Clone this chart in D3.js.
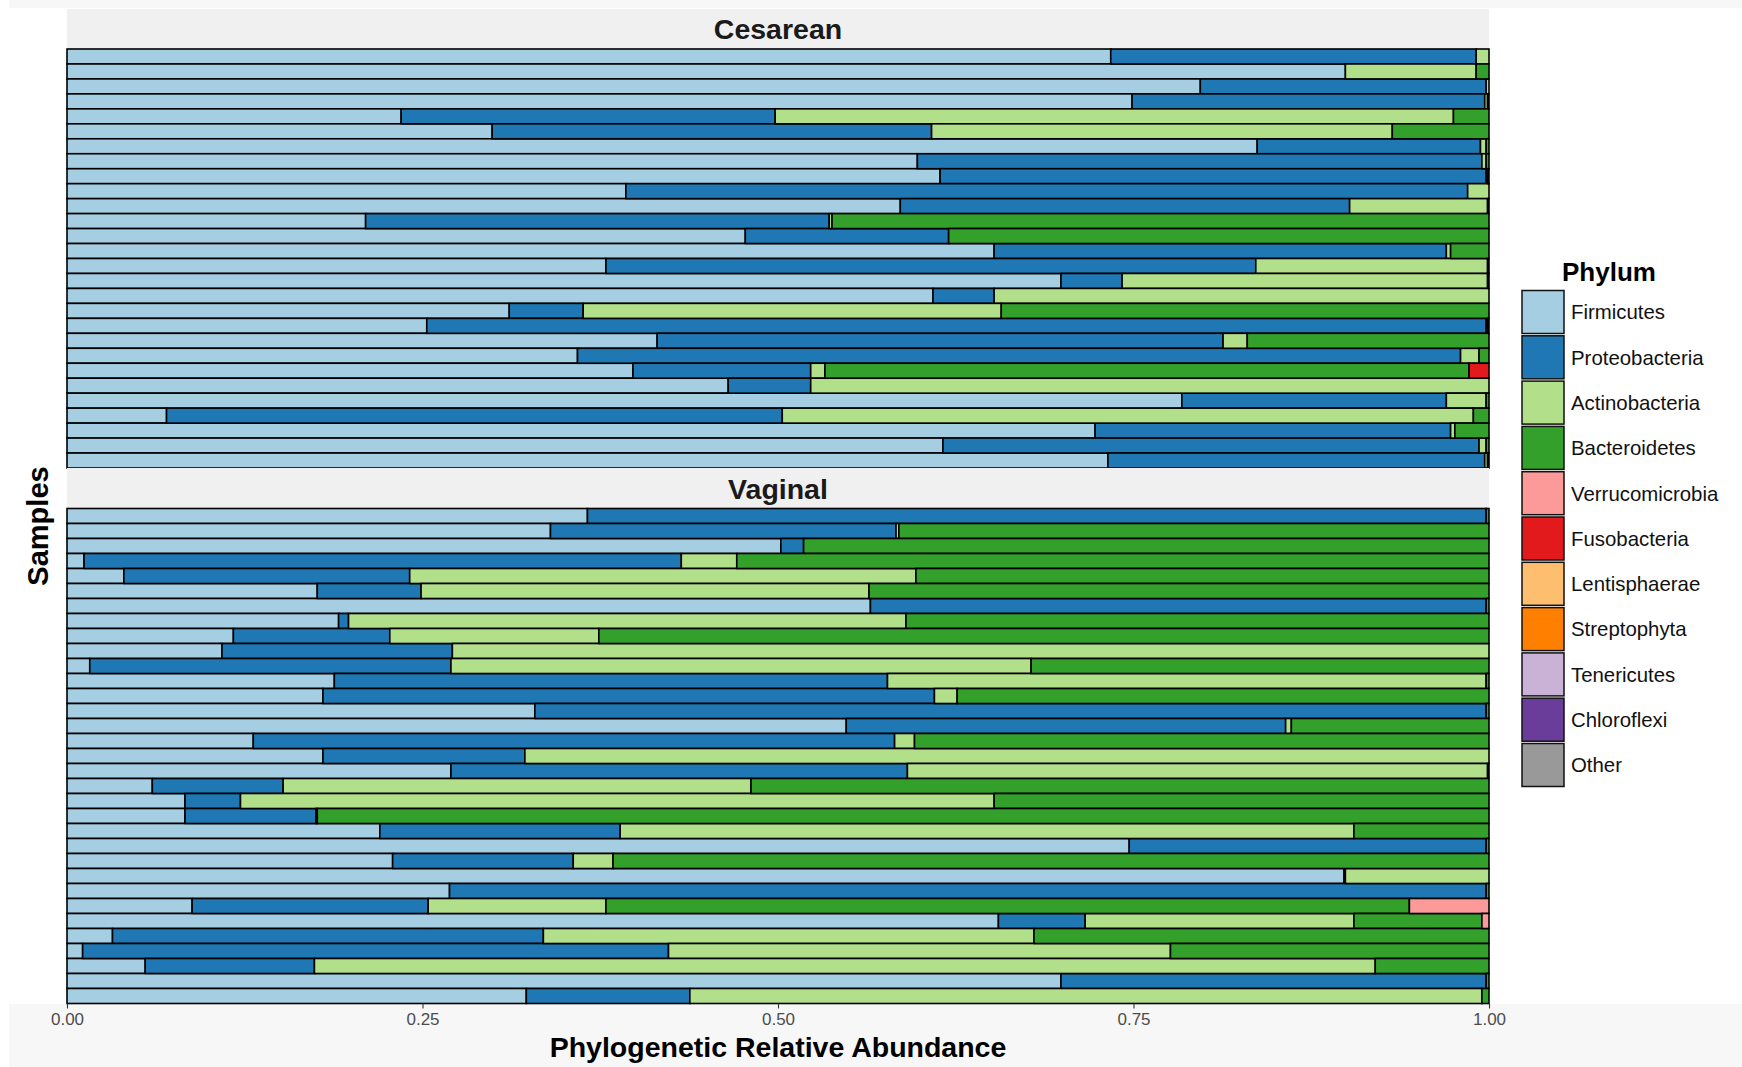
<!DOCTYPE html>
<html lang="en">
<head>
<meta charset="UTF-8">
<title>Phylum abundance</title>
<script src="https://d3js.org/d3.v7.min.js"></script>
<style>
  body { margin: 0; background: #fff; }
  svg { display: block; font-family: "Liberation Sans", Arial, Helvetica, sans-serif; }
</style>
</head>
<body>
<div id="chart"></div>
<script>
// phyla in legend / stacking order
const phyla = ["Firmicutes", "Proteobacteria", "Actinobacteria", "Bacteroidetes", "Verrucomicrobia",
  "Fusobacteria", "Lentisphaerae", "Streptophyta", "Tenericutes", "Chloroflexi", "Other"];
const colors = ["#a6cee3", "#1f78b4", "#b2df8a", "#33a02c", "#fb9a99",
  "#e31a1c", "#fdbf6f", "#ff7f00", "#cab2d6", "#6a3d9a", "#999999"];
const groups = ["Cesarean", "Vaginal"];
const ticks = [0, 0.25, 0.5, 0.75, 1];

// Cesarean samples, top to bottom (fraction of each phylum)
const cesFirm = [.734, .899, .797, .749, .235, .299, .837, .598, .614, .393, .586, .210, .477, .652, .379, .699, .609, .311, .253, .415, .359, .398, .465, .784, .070, .723, .616, .732];
const cesProt = [.257, 0, .201, .248, .263, .309, .157, .397, .384, .592, .316, .326, .143, .318, .457, .043, .043, .052, .745, .398, .621, .125, .058, .186, .433, .250, .377, .265];
const cesActi = [.009, .092, .002, .002, .477, .324, .004, .003, .001, .015, .097, .002, 0, .003, .163, .257, .348, .294, .001, .017, .013, .010, .477, .028, .486, .003, .005, .002];
const cesBact = [0, .009, 0, .001, .025, .068, .002, .002, .001, 0, .001, .462, .380, .027, .001, .001, 0, .343, .001, .170, .007, .453, 0, .002, .011, .024, .002, .001];
const cesVerr = new Array(28).fill(0);
const cesFuso = [0, 0, 0, 0, 0, 0, 0, 0, 0, 0, 0, 0, 0, 0, 0, 0, 0, 0, 0, 0, 0, .014, 0, 0, 0, 0, 0, 0];

// Vaginal samples, top to bottom
const vagFirm = [.366, .340, .502, .012, .040, .176, .565, .191, .117, .109, .016, .188, .180, .329, .548, .131, .180, .270, .060, .083, .083, .220, .747, .229, .898, .269, .088, .655, .032, .011, .055, .699, .323];
const vagProt = [.632, .243, .016, .420, .201, .073, .433, .007, .110, .162, .254, .389, .430, .669, .309, .451, .142, .321, .092, .039, .092, .169, .251, .127, .001, .729, .166, .061, .303, .412, .119, .299, .115];
const vagActi = [0, .002, 0, .039, .356, .315, 0, .392, .147, .729, .408, .421, .016, 0, .004, .014, .678, .408, .329, .530, .001, .516, 0, .028, .101, 0, .125, .189, .345, .353, .746, 0, .557];
const vagBact = [.002, .415, .482, .529, .403, .436, .002, .410, .626, 0, .322, .002, .374, .002, .139, .404, 0, .001, .519, .348, .824, .095, .002, .616, 0, .002, .565, .090, .320, .224, .080, .002, .005];
const vagVerr = [0, 0, 0, 0, 0, 0, 0, 0, 0, 0, 0, 0, 0, 0, 0, 0, 0, 0, 0, 0, 0, 0, 0, 0, 0, 0, .056, .005, 0, 0, 0, 0, 0];
const vagFuso = new Array(33).fill(0);

const W = 1742, H = 1067;
const x0 = 67, x1 = 1489;

const svg = d3.select("#chart").append("svg").attr("width", W).attr("height", H);

// faint grey frame of the screenshot
svg.append("rect").attr("x", 9).attr("y", 0).attr("width", W - 9).attr("height", 8).attr("fill", "#f7f7f7");
svg.append("rect").attr("x", 9).attr("y", 1004).attr("width", W - 9).attr("height", H - 1004).attr("fill", "#f7f7f7");

const xScale = d3.scaleLinear().domain([0, 1]).range([x0, x1]);
const color = d3.scaleOrdinal().domain(phyla).range(colors);

function buildRows(prefix, cols) {
  const n = cols[0].length;
  return d3.range(n).map(i => {
    const r = { id: prefix + (i + 1) };
    phyla.forEach((p, j) => { r[p] = cols[j] ? cols[j][i] : 0; });
    return r;
  });
}

const panels = [
  { name: groups[0], stripTop: 9, top: 49, bottom: 468,
    rows: buildRows("C", [cesFirm, cesProt, cesActi, cesBact, cesVerr, cesFuso]) },
  { name: groups[1], stripTop: 468, top: 508.5, bottom: 1003.5,
    rows: buildRows("V", [vagFirm, vagProt, vagActi, vagBact, vagVerr, vagFuso]) }
];

const stack = d3.stack().keys(phyla);

panels.forEach(pn => {
  // strip
  svg.append("rect").attr("x", x0).attr("y", pn.stripTop)
    .attr("width", x1 - x0).attr("height", pn.top - pn.stripTop).attr("fill", "#f0f0f0");
  svg.append("text").attr("x", (x0 + x1) / 2).attr("y", (pn.stripTop + pn.top) / 2)
    .attr("dy", "0.36em").attr("text-anchor", "middle")
    .attr("font-size", 28.5).attr("font-weight", "bold").attr("fill", "#1a1a1a")
    .text(pn.name);

  const yScale = d3.scaleBand().domain(pn.rows.map(d => d.id))
    .range([pn.top, pn.bottom]).padding(0);

  const series = stack(pn.rows);
  const g = svg.append("g");
  series.forEach(s => {
    g.selectAll(null)
      .data(s.filter(d => d[1] - d[0] > 0))
      .enter()
      .append("rect")
      .attr("x", d => xScale(d[0]))
      .attr("width", d => xScale(d[1]) - xScale(d[0]))
      .attr("y", d => yScale(d.data.id))
      .attr("height", yScale.bandwidth())
      .attr("fill", color(s.key))
      .attr("stroke", "#000")
      .attr("stroke-width", 1.6);
  });
});

// x axis
const xAxis = d3.axisBottom(xScale).tickValues(ticks)
  .tickFormat(d3.format(".2f")).tickSize(5).tickSizeOuter(0);
const ax = svg.append("g").attr("transform", "translate(0," + 1003.5 + ")").call(xAxis);
ax.select(".domain").remove();
ax.selectAll(".tick line").attr("stroke", "#333").attr("stroke-width", 1.1);
ax.selectAll(".tick text").attr("fill", "#4d4d4d").attr("font-size", 17)
  .attr("font-family", "Liberation Sans, Arial, sans-serif").attr("dy", "0.8em");

svg.append("text").attr("x", (x0 + x1) / 2).attr("y", 1047).attr("dy", "0.36em")
  .attr("text-anchor", "middle").attr("font-size", 28.5).attr("font-weight", "bold")
  .text("Phylogenetic Relative Abundance");

svg.append("text").attr("transform", "translate(38," + 526 + ") rotate(-90)")
  .attr("dy", "0.36em").attr("text-anchor", "middle")
  .attr("font-size", 29).attr("font-weight", "bold")
  .text("Samples");

// legend
const leg = svg.append("g");
leg.append("text").attr("x", 1562).attr("y", 281)
  .attr("font-size", 26).attr("font-weight", "bold").text("Phylum");
const keyStep = 45.3, keyTop = 290.5;
phyla.forEach((p, i) => {
  leg.append("rect").attr("x", 1522).attr("y", keyTop + i * keyStep)
    .attr("width", 42).attr("height", 43)
    .attr("fill", color(p)).attr("stroke", "#111").attr("stroke-width", 1.5);
  leg.append("text").attr("x", 1571).attr("y", keyTop + i * keyStep + 21.5)
    .attr("dy", "0.36em").attr("font-size", 20.4).attr("fill", "#111").text(p);
});
</script>
</body>
</html>
